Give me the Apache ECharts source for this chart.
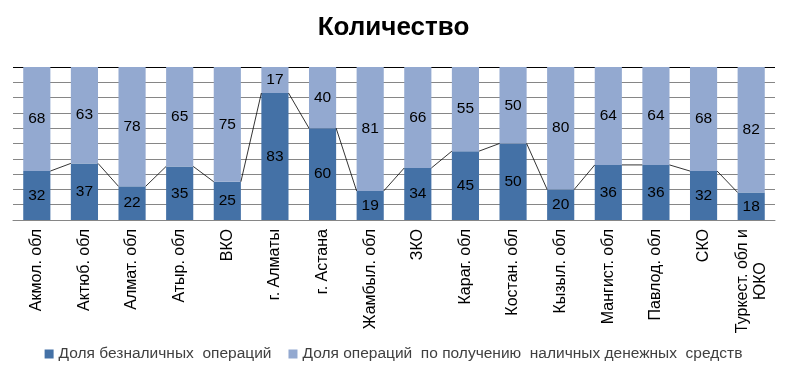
<!DOCTYPE html>
<html><head><meta charset="utf-8">
<script src="https://cdn.jsdelivr.net/npm/echarts@6/dist/echarts.min.js"></script>
<style>html,body{margin:0;padding:0;background:#fff}#c{width:787px;height:379px}</style>
</head><body><div id="c"></div>
<script>
var categories = ['Акмол. обл','Актюб. обл','Алмат. обл','Атыр. обл','ВКО','г. Алматы','г. Астана','Жамбыл. обл','ЗКО','Караг. обл','Костан. обл','Кызыл. обл','Мангист. обл','Павлод. обл','СКО','Туркест. обл и\nЮКО'];
var cashless = [32,37,22,35,25,83,60,19,34,45,50,20,36,36,32,18];
var cash = [68,63,78,65,75,17,40,81,66,55,50,80,64,64,68,82];
var seriesNames = ['Доля безналичных  операций','Доля операций  по получению  наличных денежных  средств'];
var titleText = 'Количество';

var chart = echarts.init(document.getElementById('c'));
var barFrac = 0.57;
var gridColors = [];
for (var i = 0; i < 10; i++) gridColors.push('#868686');
gridColors.push('#000000');
var lineData = [];
for (var j = 0; j < cashless.length - 1; j++) lineData.push([j, cashless[j], cashless[j+1]]);

var cv = document.createElement('canvas').getContext('2d');
cv.font = '16px "Liberation Sans"';
var axisData = categories.map(function (c) {
  if (c.indexOf('\n') < 0) return c;
  var w = Math.max.apply(null, c.split('\n').map(function (s) { return cv.measureText(s).width; }));
  return {value: c, textStyle: {align: 'center', padding: [0, w, 0, 0]}};
});

chart.setOption({
  animation: false,
  title: {text: titleText, left: 'center', top: 10, textStyle: {fontFamily: 'Liberation Sans', fontWeight: 'bold', fontSize: 26, color: '#000'}},
  grid: {left: 13, right: 12, top: 67, bottom: 159, containLabel: false},
  legend: {bottom: 12, left: 'center', itemWidth: 9, itemHeight: 9, itemGap: 17, icon: 'rect',
    textStyle: {fontFamily: 'Liberation Sans', fontSize: 15.5, color: '#404040'}, data: seriesNames},
  xAxis: {type: 'category', data: axisData,
    axisLine: {lineStyle: {color: '#868686'}}, axisTick: {show: false},
    axisLabel: {interval: 0, rotate: 90, margin: 9, fontFamily: 'Liberation Sans', fontSize: 16, color: '#000', align: 'right', verticalAlign: 'middle', lineHeight: 18}},
  yAxis: {type: 'value', min: 0, max: 100, interval: 10, axisLabel: {show: false}, axisLine: {show: false}, axisTick: {show: false},
    splitLine: {show: true, lineStyle: {color: gridColors, width: 1}}},
  series: [
    {name: seriesNames[0], type: 'bar', stack: 's', data: cashless, barWidth: (barFrac*100)+'%', itemStyle: {color: '#4471A6'},
      label: {show: true, position: 'inside', fontFamily: 'Liberation Sans', fontSize: 15.5, color: '#000'}},
    {name: seriesNames[1], type: 'bar', stack: 's', data: cash, barWidth: (barFrac*100)+'%', itemStyle: {color: '#93A9D0'},
      label: {show: true, position: 'inside', fontFamily: 'Liberation Sans', fontSize: 15.5, color: '#000'}},
    {type: 'custom', data: lineData, silent: true, z: 5,
      renderItem: function (params, api) {
        var i = api.value(0);
        var p1 = api.coord([i, api.value(1)]);
        var p2 = api.coord([i + 1, api.value(2)]);
        var half = api.size([1, 0])[0] * barFrac / 2;
        return {type: 'line', shape: {x1: p1[0] + half, y1: p1[1], x2: p2[0] - half, y2: p2[1]},
          style: {stroke: '#000', lineWidth: 0.8}};
      }}
  ]
});
</script></body></html>
